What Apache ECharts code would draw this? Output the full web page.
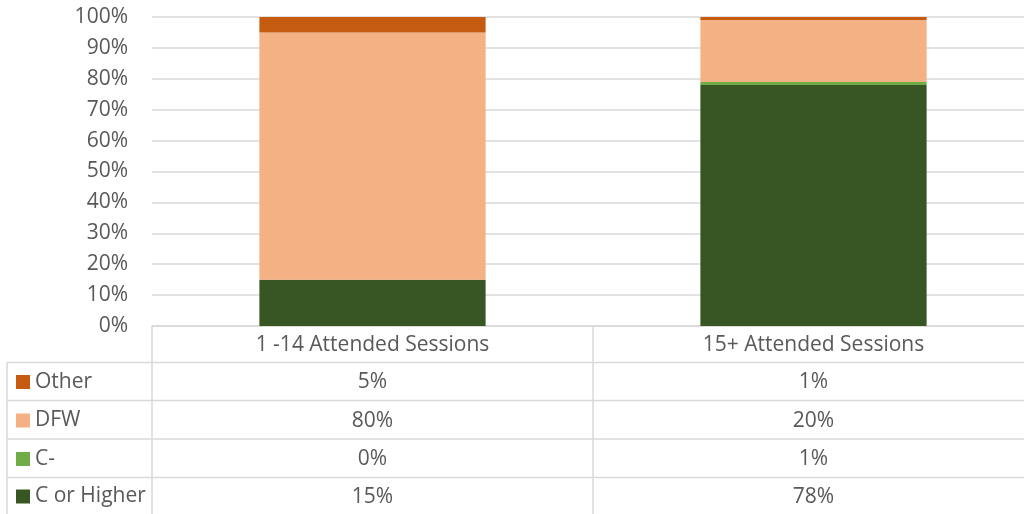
<!DOCTYPE html>
<html>
<head>
<meta charset="utf-8">
<script src="https://cdn.jsdelivr.net/npm/echarts@6/dist/echarts.min.js"></script>
<style>
  html, body { margin: 0; padding: 0; background: #fff; overflow: hidden; }
  #chart { width: 1034px; height: 514px; }
</style>
</head>
<body>
<div id="chart"></div>
<script>
// data
const categories = ["1 -14 Attended Sessions", "15+ Attended Sessions"];
const cOrHigher = [15, 78];
const cMinus = [0, 1];
const dfw = [80, 20];
const other = [5, 1];
const yTicks = [0, 10, 20, 30, 40, 50, 60, 70, 80, 90, 100];

const FONT = "Open Sans";
const FS = 21;
const TXT = "#595959";
const LINE = "#d9d9d9";

const chart = echarts.init(document.getElementById("chart"), null, { renderer: "canvas" });

// series bottom -> top
const seriesDefs = [
    { name: "C or Higher", data: cOrHigher, color: "#375623" },
    { name: "C-", data: cMinus, color: "#70AD47" },
    { name: "DFW", data: dfw, color: "#F4B183" },
    { name: "Other", data: other, color: "#C55A11" }
];

// table rows, top -> bottom
const tableNames = ["Other", "DFW", "C-", "C or Higher"];
const tableRows = [other, dfw, cMinus, cOrHigher];
const rowLines = [362.5, 400.5, 439, 477.5];
const rowMid = [381.5, 420, 458.5, 496];

const grid = { left: 152, top: 17, right: 0, height: 309 };

chart.setOption({
    animation: false,
    textStyle: { fontFamily: FONT },
    grid: grid,
    legend: tableNames.map((n, i) => ({
        left: 11,
        top: rowMid[i] - 15,
        padding: 5,
        itemWidth: 14,
        itemHeight: 14,
        icon: "rect",
        data: [n],
        textStyle: { fontFamily: FONT, fontSize: FS, color: TXT, padding: [0, 0, 3, 0] },
        selectedMode: false
    })),
    xAxis: {
        type: "category",
        data: categories,
        axisLine: { show: true, lineStyle: { color: LINE, width: 1.5 } },
        axisTick: { show: false },
        axisLabel: { margin: 9, fontSize: FS, color: TXT, fontFamily: FONT },
        splitLine: { show: false }
    },
    yAxis: {
        type: "value",
        min: yTicks[0],
        max: yTicks[yTicks.length - 1],
        interval: 10,
        axisLine: { show: false },
        axisTick: { show: false },
        axisLabel: { margin: 24, fontSize: FS, color: TXT, fontFamily: FONT, formatter: "{value}%" },
        splitLine: { lineStyle: { color: LINE, width: 1.5 } }
    },
    series: seriesDefs.map(s => ({
        name: s.name,
        type: "bar",
        stack: "total",
        barWidth: "51.3%",
        data: s.data,
        itemStyle: { color: s.color },
        emphasis: { disabled: true }
    }))
});

// data table under the plot
const graphics = [];
const lineStyle = { stroke: LINE, lineWidth: 1.5 };
rowLines.forEach(y => {
    graphics.push({ type: "line", shape: { x1: 7, y1: y, x2: 1034, y2: y }, style: lineStyle, silent: true });
});
const c0 = chart.convertToPixel({ xAxisIndex: 0 }, categories[0]);
const c1 = chart.convertToPixel({ xAxisIndex: 0 }, categories[1]);
const half = (c1 - c0) / 2;
[c0 - half, c0 + half].forEach(x => {
    graphics.push({ type: "line", shape: { x1: x, y1: 326, x2: x, y2: 514 }, style: lineStyle, silent: true });
});
graphics.push({ type: "line", shape: { x1: 7, y1: 362.5, x2: 7, y2: 514 }, style: lineStyle, silent: true });

categories.forEach((c, ci) => {
    const cx = chart.convertToPixel({ xAxisIndex: 0 }, c);
    tableRows.forEach((vals, ri) => {
        graphics.push({
            type: "text",
            x: cx,
            y: rowMid[ri] + 1,
            style: { text: vals[ci] + "%", fill: TXT, font: FS + "px '" + FONT + "'", align: "center", verticalAlign: "middle" },
            silent: true
        });
    });
});

chart.setOption({ graphic: graphics });
</script>
</body>
</html>
